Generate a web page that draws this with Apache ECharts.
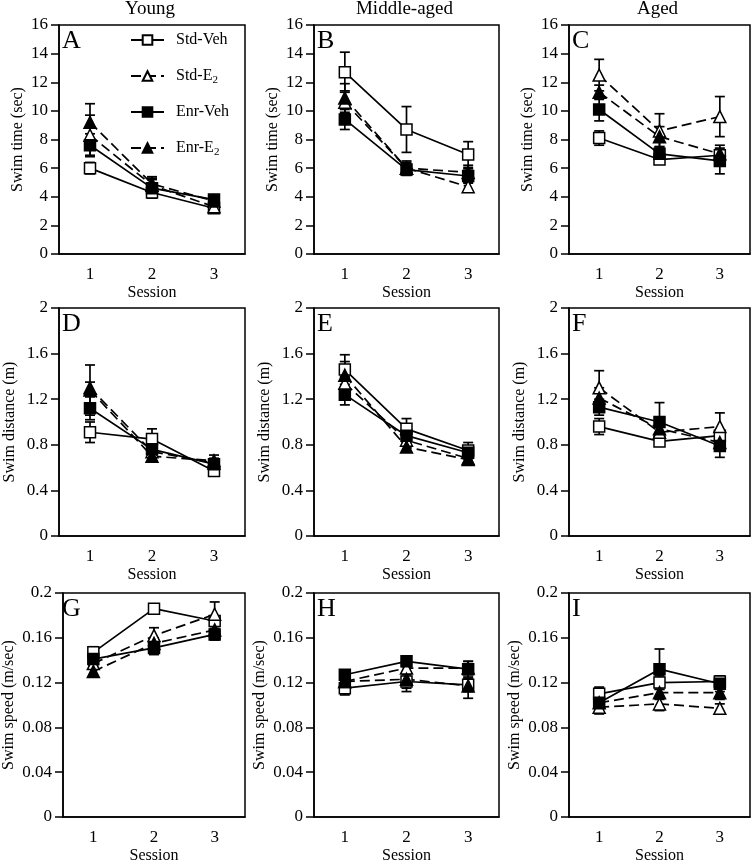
<!DOCTYPE html>
<html><head><meta charset="utf-8">
<script src="https://cdn.jsdelivr.net/npm/echarts@6/dist/echarts.min.js"></script>
<style>html,body{margin:0;padding:0;background:#fff}#c{width:756px;height:865px}</style>
</head><body><div id="c"></div>
<script>
// ---------- data ----------
const sessions = ['1', '2', '3'];
const groups = ['Std-Veh', 'Std-E2', 'Enr-Veh', 'Enr-E2'];
const columnTitles = ['Young', 'Middle-aged', 'Aged'];
const panelLetters = ['A', 'B', 'C', 'D', 'E', 'F', 'G', 'H', 'I'];
const rowAxisNames = ['Swim time (sec)', 'Swim distance (m)', 'Swim speed (m/sec)'];
const xAxisName = 'Session';
const rowAxisMax = [16, 2, 0.2];
const rowAxisStep = [2, 0.4, 0.04];

// rows: Std-Veh, Std-E2, Enr-Veh, Enr-E2 ; columns: session 1,2,3
const timeYoungMean = [[6.0, 4.3, 3.2], [8.3, 4.8, 3.3], [7.6, 4.6, 3.8], [9.2, 4.9, 3.7]];
const timeYoungSE   = [[0.4, 0.3, 0.2], [1.4, 0.4, 0.2], [0.8, 0.7, 0.2], [1.3, 0.5, 0.2]];
const timeMiddleMean = [[12.7, 8.7, 6.95], [10.6, 6.0, 4.7], [9.4, 5.9, 5.45], [10.9, 6.0, 5.7]];
const timeMiddleSE   = [[1.4, 1.6, 0.9], [0.8, 0.4, 0.3], [0.7, 0.4, 0.5], [1.0, 0.5, 0.5]];
const timeAgedMean = [[8.1, 6.6, 6.9], [12.5, 8.6, 9.6], [10.1, 7.0, 6.5], [11.3, 8.2, 7.0]];
const timeAgedSE   = [[0.5, 0.3, 0.4], [1.1, 1.2, 1.4], [0.8, 0.5, 0.9], [0.5, 0.7, 0.6]];

const distYoungMean = [[0.91, 0.85, 0.57], [1.30, 0.74, 0.64], [1.12, 0.76, 0.63], [1.28, 0.70, 0.66]];
const distYoungSE   = [[0.09, 0.09, 0.03], [0.05, 0.04, 0.04], [0.10, 0.05, 0.05], [0.22, 0.03, 0.05]];
const distMiddleMean = [[1.46, 0.94, 0.75], [1.34, 0.84, 0.68], [1.24, 0.88, 0.73], [1.41, 0.78, 0.67]];
const distMiddleSE   = [[0.07, 0.09, 0.07], [0.06, 0.05, 0.04], [0.09, 0.06, 0.05], [0.18, 0.04, 0.04]];
const distAgedMean = [[0.96, 0.83, 0.88], [1.30, 0.91, 0.96], [1.13, 1.00, 0.79], [1.21, 0.94, 0.82]];
const distAgedSE   = [[0.07, 0.04, 0.05], [0.15, 0.07, 0.12], [0.07, 0.17, 0.10], [0.09, 0.05, 0.06]];

const speedYoungMean = [[0.147, 0.186, 0.175], [0.137, 0.162, 0.181], [0.141, 0.151, 0.163], [0.130, 0.155, 0.167]];
const speedYoungSE   = [[0.005, 0.004, 0.004], [0.005, 0.007, 0.011], [0.005, 0.006, 0.005], [0.005, 0.005, 0.004]];
const speedMiddleMean = [[0.115, 0.121, 0.118], [0.121, 0.133, 0.133], [0.127, 0.139, 0.132], [0.121, 0.123, 0.117]];
const speedMiddleSE   = [[0.006, 0.006, 0.006], [0.004, 0.004, 0.006], [0.004, 0.003, 0.007], [0.004, 0.011, 0.011]];
const speedAgedMean = [[0.110, 0.120, 0.121], [0.098, 0.101, 0.097], [0.102, 0.132, 0.119], [0.102, 0.111, 0.111]];
const speedAgedSE   = [[0.006, 0.006, 0.005], [0.006, 0.006, 0.004], [0.008, 0.018, 0.007], [0.006, 0.006, 0.006]];

const panelMeans = [timeYoungMean, timeMiddleMean, timeAgedMean, distYoungMean, distMiddleMean, distAgedMean, speedYoungMean, speedMiddleMean, speedAgedMean];
const panelSEs = [timeYoungSE, timeMiddleSE, timeAgedSE, distYoungSE, distMiddleSE, distAgedSE, speedYoungSE, speedMiddleSE, speedAgedSE];

// ---------- layout / style ----------
const FONT = '"Liberation Serif", "DejaVu Serif", serif';
const colLeft = [59, 314, 569];
const colWidth = [186, 185, 181];
const rowTop = [25, 308, 593];
const rowHeight = [229, 228, 227];
const LW = 1.7;
const groupStyle = [
  { symbol: 'rect', fill: '#fff', dash: 'solid', size: 11 },
  { symbol: 'triangle', fill: '#fff', dash: [10, 5], size: 12 },
  { symbol: 'rect', fill: '#000', dash: 'solid', size: 11 },
  { symbol: 'triangle', fill: '#000', dash: [10, 5], size: 12 }
];

const grids = [], xAxes = [], yAxes = [], series = [], graphics = [];
for (let p = 0; p < 9; p++) {
  const r = Math.floor(p / 3), c = p % 3;
  grids.push({ left: colLeft[c], top: rowTop[r], width: colWidth[c], height: rowHeight[r],
    show: true, borderColor: '#000', borderWidth: 1.5, backgroundColor: 'transparent' });
  xAxes.push({ type: 'category', gridIndex: p, data: sessions, boundaryGap: true,
    name: xAxisName, nameLocation: 'middle', nameGap: 31,
    nameTextStyle: { fontFamily: FONT, fontSize: 16, color: '#000' },
    axisLine: { lineStyle: { color: '#000', width: 1.5 } },
    axisTick: { alignWithLabel: true, length: 7, lineStyle: { color: '#000', width: 1.5 } },
    axisLabel: { fontFamily: FONT, fontSize: 17, color: '#000', margin: 12 },
    splitLine: { show: false } });
  yAxes.push({ type: 'value', gridIndex: p, min: 0, max: rowAxisMax[r], interval: rowAxisStep[r],
    name: rowAxisNames[r], nameLocation: 'middle', nameRotate: 90, nameGap: r === 0 ? 33 : (r === 1 ? 41 : 46),
    nameTextStyle: { fontFamily: FONT, fontSize: 16, color: '#000' },
    axisLine: { show: true, lineStyle: { color: '#000', width: 1.5 } },
    axisTick: { show: true, length: 8, lineStyle: { color: '#000', width: 1.5 } },
    axisLabel: { fontFamily: FONT, fontSize: 17, color: '#000', margin: 11 },
    splitLine: { show: false } });

  const errData = [];
  for (let g = 0; g < 4; g++) {
    const st = groupStyle[g];
    series.push({ type: 'line', name: groups[g], xAxisIndex: p, yAxisIndex: p, z: 3,
      data: panelMeans[p][g], symbol: st.symbol, symbolSize: st.size,
      lineStyle: { color: '#000', width: LW, type: st.dash },
      itemStyle: { color: st.fill, borderColor: '#000', borderWidth: 1.5 },
      emphasis: { disabled: true }, animation: false });
    for (let s = 0; s < 3; s++) errData.push([s, panelMeans[p][g][s], panelSEs[p][g][s]]);
  }
  series.push({ type: 'custom', xAxisIndex: p, yAxisIndex: p, z: 2, data: errData,
    encode: { x: 0, y: 1 }, animation: false, silent: true,
    renderItem: function (params, api) {
      const x = api.value(0), m = api.value(1), e = api.value(2);
      const hi = api.coord([x, m + e]), lo = api.coord([x, m - e]);
      const cw = 5, st = { stroke: '#000', lineWidth: LW };
      return { type: 'group', children: [
        { type: 'line', shape: { x1: hi[0], y1: hi[1], x2: lo[0], y2: lo[1] }, style: st },
        { type: 'line', shape: { x1: hi[0] - cw, y1: hi[1], x2: hi[0] + cw, y2: hi[1] }, style: st },
        { type: 'line', shape: { x1: lo[0] - cw, y1: lo[1], x2: lo[0] + cw, y2: lo[1] }, style: st }
      ] };
    } });

  graphics.push({ type: 'text', left: colLeft[c] + 3, top: rowTop[r] + 3,
    style: { text: panelLetters[p], font: '26px ' + FONT, fill: '#000' } });
}
for (let c = 0; c < 3; c++) {
  graphics.push({ type: 'text', x: colLeft[c] + colWidth[c] / 2 - 2, y: 9,
    style: { text: columnTitles[c], font: '19px ' + FONT, fill: '#000', textAlign: 'center', textVerticalAlign: 'middle' } });
}

const chart = echarts.init(document.getElementById('c'), null, { renderer: 'canvas' });
chart.setOption({
  animation: false,
  backgroundColor: '#fff',
  grid: grids, xAxis: xAxes, yAxis: yAxes, series: series, graphic: graphics,
  legend: { orient: 'vertical', left: 130, top: 30, padding: 0, itemWidth: 33, itemHeight: 12, itemGap: 16,
    data: groups, selectedMode: false,
    formatter: function (n) { return n.replace('E2', 'E{sub|2}'); },
    textStyle: { fontFamily: FONT, fontSize: 16, color: '#000', lineHeight: 20, padding: [0, 0, 0, 7],
      rich: { sub: { fontFamily: FONT, fontSize: 11, color: '#000', verticalAlign: 'bottom', lineHeight: 20, padding: [8, 0, 0, 0] } } } }
});
</script></body></html>
